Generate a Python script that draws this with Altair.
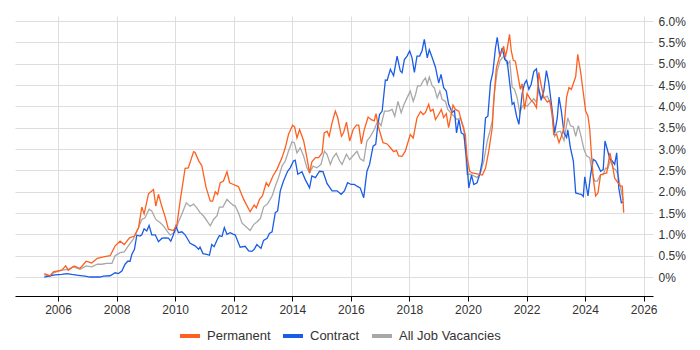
import altair as alt
import pandas as pd

perm_x = [2005.53,2005.73,2005.84,2006.13,2006.26,2006.35,2006.55,2006.75,2006.96,2007.15,2007.34,2007.55,2007.78,2007.95,
2008.12,2008.26,2008.44,2008.61,2008.75,2008.86,2008.94,2009.09,2009.26,2009.34,2009.43,2009.55,2009.66,2009.77,2009.94,
2010.06,2010.17,2010.34,2010.45,2010.63,2010.68,2010.80,2010.91,2011.06,2011.20,2011.28,2011.37,2011.45,2011.54,2011.65,
2011.77,2011.86,2011.99,2012.16,2012.34,2012.56,2012.70,2012.77,2012.88,2012.98,2013.11,2013.19,2013.34,2013.48,2013.65,
2013.76,2013.87,2014.01,2014.08,2014.16,2014.25,2014.39,2014.50,2014.59,2014.67,2014.79,2014.90,2015.02,2015.09,2015.19,
2015.26,2015.36,2015.47,2015.55,2015.68,2015.75,2015.85,2015.96,2016.08,2016.19,2016.27,2016.36,2016.46,2016.59,2016.70,
2016.80,2016.86,2016.95,2017.10,2017.24,2017.35,2017.46,2017.56,2017.63,2017.75,2017.86,2018.03,2018.13,2018.26,2018.38,
2018.47,2018.55,2018.66,2018.72,2018.81,2018.89,2019.00,2019.09,2019.17,2019.26,2019.34,2019.49,2019.57,2019.69,2019.80,
2019.91,2019.97,2020.06,2020.14,2020.31,2020.49,2020.60,2020.71,2020.83,2020.88,2020.97,2021.05,2021.11,2021.17,2021.22,
2021.28,2021.34,2021.42,2021.48,2021.55,2021.62,2021.70,2021.79,2021.85,2021.93,2022.02,2022.14,2022.25,2022.34,2022.42,
2022.50,2022.59,2022.71,2022.80,2022.88,2022.93,2023.03,2023.11,2023.19,2023.28,2023.37,2023.45,2023.53,2023.62,2023.68,
2023.75,2023.85,2023.94,2024.02,2024.10,2024.16,2024.21,2024.28,2024.36,2024.44,2024.53,2024.62,2024.74,2024.85,2024.93,
2025.01,2025.10,2025.21,2025.27,2025.32]
perm_y = [0.08,0.03,0.12,0.16,0.26,0.16,0.26,0.20,0.37,0.33,0.44,0.47,0.50,0.73,
0.84,0.76,0.92,0.96,1.16,1.64,1.48,1.95,2.05,1.66,1.94,1.64,1.41,1.12,1.09,
1.23,1.78,2.55,2.56,2.94,2.92,2.73,2.61,2.09,1.78,1.78,2.00,1.94,2.21,2.25,
2.47,2.21,2.17,2.12,1.82,1.53,1.69,1.62,1.82,1.90,2.21,2.13,2.37,2.53,2.80,
3.03,3.34,3.56,3.52,3.26,3.46,3.19,2.80,2.44,2.70,2.80,2.80,2.91,3.38,3.42,
3.30,3.62,3.89,3.74,3.30,3.38,3.63,3.19,3.46,3.56,3.56,3.12,3.46,3.75,3.69,
3.66,3.83,3.50,3.15,3.12,3.03,2.94,2.97,2.84,2.83,2.95,3.34,3.26,3.73,3.88,
3.81,3.86,4.05,3.89,3.93,3.69,3.81,3.93,3.74,3.83,3.50,4.03,3.93,3.89,3.59,
3.34,2.80,2.48,2.44,2.42,2.39,2.55,2.95,3.50,4.12,4.90,5.10,5.26,5.30,5.41,
5.16,5.35,5.69,5.30,5.08,5.06,4.75,4.40,4.53,3.93,4.30,4.16,4.08,3.97,4.80,
4.50,4.22,4.10,4.14,3.82,3.34,3.34,3.15,3.30,3.50,4.22,4.44,4.40,4.58,4.70,
5.22,4.80,4.32,3.89,3.77,3.46,2.95,2.32,1.90,1.97,2.40,2.42,2.44,2.91,2.64,
2.32,2.23,2.13,2.13,1.51]

contract_x = [2005.53,2005.73,2005.90,2006.13,2006.30,2006.47,2006.69,2006.92,2007.09,2007.26,2007.44,2007.55,2007.78,2007.95,
2008.06,2008.18,2008.29,2008.38,2008.46,2008.52,2008.61,2008.69,2008.80,2008.86,2008.94,2009.03,2009.11,2009.20,2009.32,
2009.43,2009.55,2009.66,2009.77,2009.85,2009.94,2010.03,2010.11,2010.23,2010.34,2010.51,2010.68,2010.80,2010.85,2010.95,
2011.08,2011.17,2011.25,2011.33,2011.43,2011.51,2011.60,2011.68,2011.77,2011.88,2011.99,2012.05,2012.22,2012.39,2012.51,
2012.62,2012.70,2012.79,2012.93,2013.02,2013.14,2013.22,2013.31,2013.42,2013.50,2013.59,2013.70,2013.84,2013.93,2014.04,
2014.10,2014.19,2014.33,2014.44,2014.59,2014.67,2014.79,2014.93,2015.05,2015.19,2015.36,2015.53,2015.67,2015.78,2015.89,
2016.01,2016.12,2016.21,2016.32,2016.44,2016.55,2016.64,2016.76,2016.85,2016.92,2016.98,2017.07,2017.18,2017.24,2017.35,
2017.46,2017.58,2017.69,2017.75,2017.83,2017.92,2018.01,2018.09,2018.17,2018.26,2018.35,2018.43,2018.51,2018.61,2018.68,
2018.78,2018.89,2019.00,2019.08,2019.17,2019.26,2019.34,2019.46,2019.54,2019.61,2019.69,2019.77,2019.86,2019.95,2020.03,
2020.12,2020.20,2020.31,2020.40,2020.49,2020.60,2020.68,2020.77,2020.85,2020.94,2021.00,2021.09,2021.17,2021.26,2021.34,
2021.43,2021.51,2021.57,2021.66,2021.74,2021.85,2021.93,2022.00,2022.08,2022.16,2022.25,2022.34,2022.42,2022.50,2022.59,
2022.68,2022.76,2022.88,2022.96,2023.05,2023.11,2023.19,2023.28,2023.37,2023.41,2023.50,2023.60,2023.68,2023.79,2023.87,
2023.94,2023.99,2024.10,2024.19,2024.28,2024.36,2024.45,2024.53,2024.62,2024.68,2024.76,2024.85,2024.93,2025.01,2025.08,
2025.15,2025.24,2025.30]
contract_y = [0.00,0.03,0.05,0.06,0.08,0.06,0.04,0.02,0.00,0.00,0.00,0.02,0.03,0.10,
0.08,0.14,0.30,0.37,0.37,0.53,0.65,0.98,0.96,0.99,1.13,1.08,1.21,0.99,0.99,
0.83,0.91,0.92,0.91,0.84,0.99,1.20,1.04,1.06,0.99,0.79,0.73,0.65,0.70,0.55,
0.53,0.51,0.76,0.71,0.87,0.97,0.95,1.16,1.00,1.04,1.00,0.99,0.70,0.72,0.61,
0.60,0.65,0.76,0.67,0.86,0.91,1.02,1.06,1.51,1.55,2.02,2.25,2.48,2.56,2.72,
2.74,2.41,2.47,2.29,2.09,2.37,2.33,2.48,2.47,2.19,2.02,2.02,1.94,2.02,2.21,
2.17,2.17,2.13,2.09,1.86,2.48,2.64,3.07,3.11,3.56,3.81,3.89,4.62,4.61,4.87,
4.72,5.18,4.83,4.79,5.10,5.18,5.30,5.14,4.80,5.18,5.18,5.30,5.57,5.14,5.33,
5.14,4.92,4.55,4.75,4.44,4.36,4.05,3.86,3.90,3.38,3.69,3.38,3.34,2.80,2.09,
2.39,2.17,2.21,2.40,2.72,3.73,3.77,4.55,4.80,5.37,5.62,5.16,5.37,5.10,5.06,
4.53,4.05,4.09,3.77,3.58,4.30,4.53,4.61,4.40,4.52,4.82,4.88,4.40,4.14,4.36,
4.84,4.55,3.89,3.38,3.73,4.22,3.89,3.38,3.27,3.45,3.03,2.72,1.97,1.95,1.94,
1.89,2.35,1.90,2.40,2.76,2.72,2.60,2.48,2.52,3.19,2.99,2.76,2.72,2.64,2.91,
2.09,1.74,1.76]

all_x = [2005.53,2005.73,2005.84,2006.13,2006.35,2006.52,2006.75,2006.96,2007.15,2007.34,2007.49,2007.66,2007.84,2007.95,
2008.12,2008.26,2008.40,2008.57,2008.75,2008.86,2008.97,2009.11,2009.20,2009.34,2009.49,2009.60,2009.72,2009.83,2010.00,
2010.11,2010.23,2010.38,2010.51,2010.63,2010.74,2010.85,2010.97,2011.08,2011.20,2011.31,2011.43,2011.51,2011.63,2011.77,
2011.88,2011.99,2012.05,2012.16,2012.28,2012.45,2012.56,2012.68,2012.79,2012.91,2013.02,2013.16,2013.31,2013.42,2013.53,
2013.65,2013.76,2013.87,2013.99,2014.07,2014.16,2014.27,2014.39,2014.50,2014.59,2014.71,2014.84,2014.98,2015.10,2015.19,
2015.30,2015.39,2015.50,2015.62,2015.70,2015.85,2015.96,2016.08,2016.21,2016.32,2016.44,2016.55,2016.67,2016.80,2016.92,
2017.03,2017.15,2017.29,2017.41,2017.50,2017.61,2017.72,2017.81,2017.92,2018.03,2018.13,2018.21,2018.28,2018.38,2018.47,
2018.55,2018.61,2018.68,2018.78,2018.85,2018.95,2019.04,2019.12,2019.23,2019.31,2019.40,2019.51,2019.63,2019.74,2019.86,
2019.97,2020.09,2020.20,2020.31,2020.43,2020.54,2020.66,2020.75,2020.83,2020.91,2021.00,2021.09,2021.17,2021.25,2021.34,
2021.43,2021.51,2021.59,2021.68,2021.77,2021.85,2021.93,2022.02,2022.14,2022.25,2022.34,2022.42,2022.50,2022.59,2022.71,
2022.80,2022.88,2022.96,2023.05,2023.16,2023.28,2023.41,2023.50,2023.60,2023.68,2023.77,2023.87,2023.96,2024.05,2024.16,
2024.24,2024.33,2024.42,2024.53,2024.62,2024.70,2024.78,2024.87,2024.96,2025.04,2025.12,2025.21,2025.30]
all_y = [0.05,0.02,0.10,0.16,0.18,0.24,0.18,0.26,0.24,0.30,0.30,0.32,0.32,0.50,
0.57,0.59,0.73,0.89,1.16,1.35,1.39,1.59,1.55,1.35,1.27,1.20,1.08,0.98,1.06,
1.29,1.48,1.74,1.66,1.71,1.62,1.51,1.43,1.32,1.20,1.35,1.44,1.64,1.64,1.82,
1.74,1.68,1.67,1.51,1.27,1.16,1.09,1.23,1.29,1.37,1.64,1.72,1.90,2.13,2.33,
2.60,2.72,2.95,3.17,3.15,2.91,3.03,2.83,2.56,2.44,2.60,2.56,2.64,2.95,2.87,
2.64,2.80,2.90,2.72,2.64,2.88,2.75,2.85,2.95,2.77,2.72,3.19,3.30,3.46,3.66,
3.55,3.89,3.89,3.93,3.77,4.12,3.85,4.04,4.20,4.36,4.12,4.28,4.48,4.48,4.60,
4.67,4.52,4.69,4.48,4.44,4.20,4.36,4.16,4.12,3.93,3.86,3.78,3.69,3.73,3.50,
2.41,2.41,2.37,2.33,2.44,2.72,3.19,3.42,3.66,4.36,4.83,5.06,5.14,5.18,4.98,
5.06,4.45,4.40,4.20,3.85,4.00,4.04,4.00,4.10,4.18,4.10,4.40,4.24,4.20,4.24,
4.10,3.75,3.30,3.40,3.42,3.20,3.73,3.55,3.52,3.30,3.55,3.28,3.00,2.84,2.80,
2.45,2.25,2.25,2.40,2.40,2.55,2.55,2.75,2.55,2.52,2.41,2.10,1.80]

series = ["Permanent", "Contract", "All Job Vacancies"]
colors = ["#ff5f1f", "#1a5ce6", "#a8a8a8"]
year_ticks = [2006, 2008, 2010, 2012, 2014, 2016, 2018, 2020, 2022, 2024, 2026]
pct_ticks = [0, 0.5, 1, 1.5, 2, 2.5, 3, 3.5, 4, 4.5, 5, 5.5, 6]

frames = []
for name, xs, ys, order in [("All Job Vacancies", all_x, all_y, 0),
                            ("Contract", contract_x, contract_y, 1),
                            ("Permanent", perm_x, perm_y, 2)]:
    frames.append(pd.DataFrame({"year": xs, "pct": ys, "series": name, "z": order}))
df = pd.concat(frames, ignore_index=True)

chart = alt.Chart(df).mark_line(strokeWidth=1.3, interpolate="linear").encode(
    x=alt.X("year:Q", scale=alt.Scale(domain=[2004.53, 2026.32], nice=False, zero=False),
            axis=alt.Axis(values=year_ticks, format="d", title=None, grid=True,
                          gridColor="#dddddd", domainColor="#000000", tickColor="#000000",
                          tickSize=5, labelFontSize=12, labelColor="#333333",
                          labelFont="Liberation Sans", labelPadding=3)),
    y=alt.Y("pct:Q", scale=alt.Scale(domain=[-0.445, 6.12], nice=False, zero=False),
            axis=alt.Axis(orient="right", values=pct_ticks, title=None, grid=True,
                          gridColor="#dddddd", domain=False, ticks=False,
                          labelExpr="datum.value == 0 ? '0%' : format(datum.value, '.1f') + '%'",
                          labelFontSize=12, labelColor="#333333", labelFont="Liberation Sans",
                          labelPadding=5)),
    color=alt.Color("series:N", scale=alt.Scale(domain=series, range=colors),
                    legend=alt.Legend(orient="none", legendX=163, legendY=308,
                                      direction="horizontal", title=None,
                                      symbolType="stroke", symbolStrokeWidth=4, symbolSize=400,
                                      labelFontSize=13, labelFont="Liberation Sans",
                                      labelColor="#333333", columnPadding=4, labelOffset=5)),
    detail="z:N",
    order="z:Q",
).properties(
    width=638, height=280,
    padding={"left": 7, "top": 7, "right": 5, "bottom": 5},
).configure_view(stroke=None)

chart.save("out.html", embed_options={"renderer": "svg", "actions": False})
